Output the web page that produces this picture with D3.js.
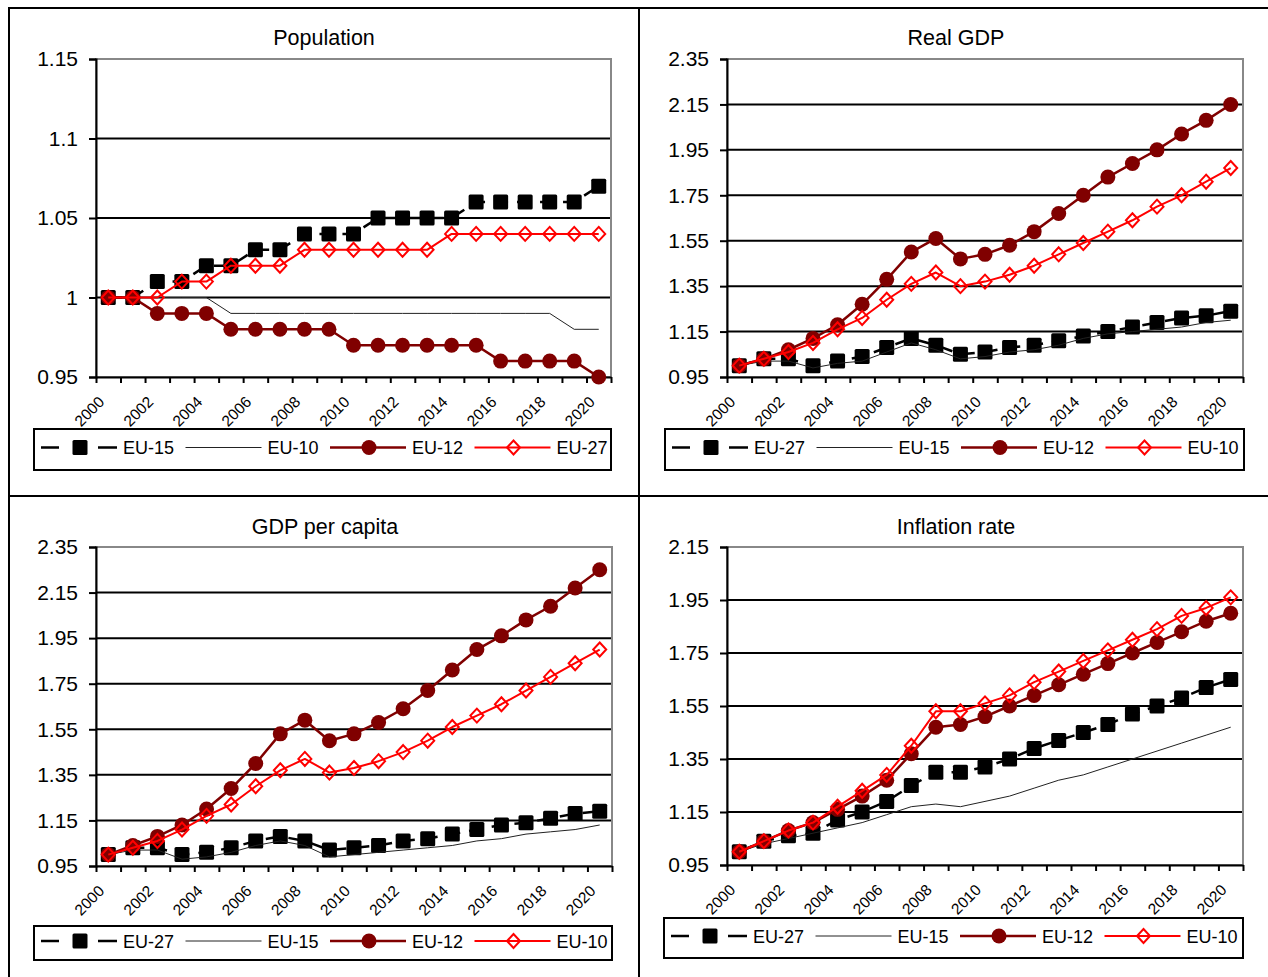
<!DOCTYPE html>
<html>
<head>
<meta charset="utf-8">
<script src="https://cdn.jsdelivr.net/npm/d3@7"></script>
<style>
body { margin: 0; background: #fff; }
svg { display: block; font-family: Arial, "Liberation Sans", sans-serif; }
</style>
</head>
<body>
<div id="chart"></div>
<script>
// categories
var years = [2000, 2001, 2002, 2003, 2004, 2005, 2006, 2007, 2008, 2009, 2010,
             2011, 2012, 2013, 2014, 2015, 2016, 2017, 2018, 2019, 2020];
var yearLabels = ["2000", "2002", "2004", "2006", "2008", "2010", "2012", "2014", "2016", "2018", "2020"];

// Population
var popTitle = "Population";
var popLegend = ["EU-15", "EU-10", "EU-12", "EU-27"];
var popTicks = [0.95, 1, 1.05, 1.1, 1.15];
var popTickLabels = ["0.95", "1", "1.05", "1.1", "1.15"];
var popSquare = [1.00, 1.00, 1.01, 1.01, 1.02, 1.02, 1.03, 1.03, 1.04, 1.04, 1.04, 1.05, 1.05, 1.05, 1.05, 1.06, 1.06, 1.06, 1.06, 1.06, 1.07];
var popThin = [1.00, 1.00, 1.00, 1.00, 1.00, 0.99, 0.99, 0.99, 0.99, 0.99, 0.99, 0.99, 0.99, 0.99, 0.99, 0.99, 0.99, 0.99, 0.99, 0.98, 0.98];
var popCircle = [1.00, 1.00, 0.99, 0.99, 0.99, 0.98, 0.98, 0.98, 0.98, 0.98, 0.97, 0.97, 0.97, 0.97, 0.97, 0.97, 0.96, 0.96, 0.96, 0.96, 0.95];
var popDiamond = [1.00, 1.00, 1.00, 1.01, 1.01, 1.02, 1.02, 1.02, 1.03, 1.03, 1.03, 1.03, 1.03, 1.03, 1.04, 1.04, 1.04, 1.04, 1.04, 1.04, 1.04];

// Real GDP
var gdpTitle = "Real GDP";
var gdpLegend = ["EU-27", "EU-15", "EU-12", "EU-10"];
var gdpTicks = [0.95, 1.15, 1.35, 1.55, 1.75, 1.95, 2.15, 2.35];
var gdpTickLabels = ["0.95", "1.15", "1.35", "1.55", "1.75", "1.95", "2.15", "2.35"];
var gdpSquare = [1.00, 1.03, 1.03, 1.00, 1.02, 1.04, 1.08, 1.12, 1.09, 1.05, 1.06, 1.08, 1.09, 1.11, 1.13, 1.15, 1.17, 1.19, 1.21, 1.22, 1.24];
var gdpThin = [1.00, 1.02, 1.02, 0.99, 1.01, 1.02, 1.06, 1.10, 1.07, 1.03, 1.04, 1.06, 1.07, 1.09, 1.12, 1.14, 1.15, 1.16, 1.17, 1.19, 1.20];
var gdpCircle = [1.00, 1.03, 1.07, 1.12, 1.18, 1.27, 1.38, 1.50, 1.56, 1.47, 1.49, 1.53, 1.59, 1.67, 1.75, 1.83, 1.89, 1.95, 2.02, 2.08, 2.15];
var gdpDiamond = [1.00, 1.03, 1.06, 1.10, 1.16, 1.21, 1.29, 1.36, 1.41, 1.35, 1.37, 1.40, 1.44, 1.49, 1.54, 1.59, 1.64, 1.70, 1.75, 1.81, 1.87];

// GDP per capita
var pcTitle = "GDP per capita";
var pcLegend = ["EU-27", "EU-15", "EU-12", "EU-10"];
var pcTicks = [0.95, 1.15, 1.35, 1.55, 1.75, 1.95, 2.15, 2.35];
var pcTickLabels = ["0.95", "1.15", "1.35", "1.55", "1.75", "1.95", "2.15", "2.35"];
var pcSquare = [1.00, 1.03, 1.03, 1.00, 1.01, 1.03, 1.06, 1.08, 1.06, 1.02, 1.03, 1.04, 1.06, 1.07, 1.09, 1.11, 1.13, 1.14, 1.16, 1.18, 1.19];
var pcThin = [1.00, 1.02, 1.02, 0.98, 0.99, 1.01, 1.04, 1.06, 1.04, 0.99, 1.00, 1.01, 1.02, 1.03, 1.04, 1.06, 1.07, 1.09, 1.10, 1.11, 1.13];
var pcCircle = [1.00, 1.04, 1.08, 1.13, 1.20, 1.29, 1.40, 1.53, 1.59, 1.50, 1.53, 1.58, 1.64, 1.72, 1.81, 1.90, 1.96, 2.03, 2.09, 2.17, 2.25];
var pcDiamond = [1.00, 1.03, 1.06, 1.11, 1.17, 1.22, 1.30, 1.37, 1.42, 1.36, 1.38, 1.41, 1.45, 1.50, 1.56, 1.61, 1.66, 1.72, 1.78, 1.84, 1.90];

// Inflation rate
var infTitle = "Inflation rate";
var infLegend = ["EU-27", "EU-15", "EU-12", "EU-10"];
var infTicks = [0.95, 1.15, 1.35, 1.55, 1.75, 1.95, 2.15];
var infTickLabels = ["0.95", "1.15", "1.35", "1.55", "1.75", "1.95", "2.15"];
var infSquare = [1.00, 1.04, 1.06, 1.07, 1.12, 1.15, 1.19, 1.25, 1.30, 1.30, 1.32, 1.35, 1.39, 1.42, 1.45, 1.48, 1.52, 1.55, 1.58, 1.62, 1.65];
var infThin = [1.00, 1.03, 1.05, 1.07, 1.09, 1.11, 1.14, 1.17, 1.18, 1.17, 1.19, 1.21, 1.24, 1.27, 1.29, 1.32, 1.35, 1.38, 1.41, 1.44, 1.47];
var infCircle = [1.00, 1.04, 1.08, 1.11, 1.16, 1.21, 1.27, 1.37, 1.47, 1.48, 1.51, 1.55, 1.59, 1.63, 1.67, 1.71, 1.75, 1.79, 1.83, 1.87, 1.90];
var infDiamond = [1.00, 1.04, 1.08, 1.11, 1.17, 1.23, 1.29, 1.40, 1.53, 1.53, 1.56, 1.59, 1.64, 1.68, 1.72, 1.76, 1.80, 1.84, 1.89, 1.92, 1.96];

var W = 1268, H = 977;

var svg = d3.select("#chart").append("svg")
    .attr("width", W)
    .attr("height", H);

//outer frame lines of the 2x2 table
var frame = svg.append("g").attr("stroke", "#000").attr("stroke-width", 2);
frame.append("line").attr("x1", 8).attr("x2", W).attr("y1", 8).attr("y2", 8);
frame.append("line").attr("x1", 9).attr("x2", 9).attr("y1", 7).attr("y2", H);
frame.append("line").attr("x1", 639).attr("x2", 639).attr("y1", 7).attr("y2", H);
frame.append("line").attr("x1", 8).attr("x2", W).attr("y1", 496).attr("y2", 496);

var panels = [
    {title: popTitle, legend: popLegend, ticks: popTicks, tickLabels: popTickLabels,
     series: [popSquare, popThin, popCircle, popDiamond],
     left: 96, right: 611, top: 59, bottom: 377, titleX: 324, titleY: 45,
     box: {x0: 34, x1: 611, y0: 429, y1: 470}},
    {title: gdpTitle, legend: gdpLegend, ticks: gdpTicks, tickLabels: gdpTickLabels,
     series: [gdpSquare, gdpThin, gdpCircle, gdpDiamond],
     left: 727, right: 1243, top: 59, bottom: 377, titleX: 956, titleY: 45,
     box: {x0: 665, x1: 1244, y0: 429, y1: 470}},
    {title: pcTitle, legend: pcLegend, ticks: pcTicks, tickLabels: pcTickLabels,
     series: [pcSquare, pcThin, pcCircle, pcDiamond],
     left: 96, right: 612, top: 547, bottom: 866, titleX: 325, titleY: 534,
     box: {x0: 34, x1: 612, y0: 926, y1: 960}},
    {title: infTitle, legend: infLegend, ticks: infTicks, tickLabels: infTickLabels,
     series: [infSquare, infThin, infCircle, infDiamond],
     left: 727, right: 1243, top: 547, bottom: 865, titleX: 956, titleY: 534,
     box: {x0: 664, x1: 1243, y0: 918, y1: 958}}
];

//line + marker style of each of the four series, in legend order
var styles = [
    {stroke: "#000", width: 2.5, dash: "14,9", legendDash: "18,15,12,12,19", marker: "square"},
    {stroke: "#222", width: 1, dash: null, legendDash: null, marker: null},
    {stroke: "#800000", width: 2.5, dash: null, legendDash: null, marker: "circle"},
    {stroke: "#ff0000", width: 2, dash: null, legendDash: null, marker: "diamond"}
];

function drawMarker(sel, type, x, y) {
    if (type == "square") {
        sel.append("rect")
            .attr("x", x - 7.5).attr("y", y - 7.5)
            .attr("width", 15).attr("height", 15)
            .attr("rx", 1.5)
            .attr("fill", "#000");
    }
    else if (type == "circle") {
        sel.append("circle")
            .attr("cx", x).attr("cy", y).attr("r", 7.5)
            .attr("fill", "#800000");
    }
    else if (type == "diamond") {
        sel.append("path")
            .attr("d", "M" + x + "," + (y - 7) + "L" + (x + 6.5) + "," + y +
                       "L" + x + "," + (y + 7) + "L" + (x - 6.5) + "," + y + "Z")
            .attr("fill", "none")
            .attr("stroke", "#ff0000")
            .attr("stroke-width", 2);
    }
}

function drawPanel(p) {
    var g = svg.append("g");

    var x = d3.scaleBand().domain(years).range([p.left, p.right]).padding(0);
    var xEdge = d3.scaleLinear().domain([0, years.length]).range([p.left, p.right]);
    var y = d3.scaleLinear()
        .domain([p.ticks[0], p.ticks[p.ticks.length - 1]])
        .range([p.bottom, p.top]);

    //title
    g.append("text")
        .attr("x", p.titleX).attr("y", p.titleY)
        .attr("text-anchor", "middle")
        .style("font-size", "21.5px")
        .text(p.title);

    //major gridlines
    g.append("g").selectAll("line")
        .data(p.ticks.slice(1))
        .enter().append("line")
        .attr("x1", p.left).attr("x2", p.right)
        .attr("y1", function(d) { return y(d); })
        .attr("y2", function(d) { return y(d); })
        .attr("stroke", "#000")
        .attr("stroke-width", 2);

    //gray plot area border
    g.append("rect")
        .attr("x", p.left).attr("y", p.top)
        .attr("width", p.right - p.left).attr("height", p.bottom - p.top)
        .attr("fill", "none")
        .attr("stroke", "#888")
        .attr("stroke-width", 2);

    //y axis
    var yAxis = d3.axisLeft(y)
        .tickValues(p.ticks)
        .tickFormat(function(d, i) { return p.tickLabels[i]; })
        .tickSize(7)
        .tickPadding(11);
    var ya = g.append("g")
        .attr("transform", "translate(" + p.left + ",0)")
        .call(yAxis);
    ya.selectAll("path, line").attr("stroke", "#000").attr("stroke-width", 2);
    ya.selectAll("text")
        .style("font-size", "21px")
        .style("font-family", "Arial, 'Liberation Sans', sans-serif")
        .attr("fill", "#000");

    //x axis: tick marks between the categories
    var xAxis = d3.axisBottom(xEdge)
        .tickValues(d3.range(years.length + 1))
        .tickFormat("")
        .tickSize(6)
        .tickSizeOuter(0);
    var xa = g.append("g")
        .attr("transform", "translate(0," + p.bottom + ")")
        .call(xAxis);
    xa.selectAll("path, line").attr("stroke", "#000").attr("stroke-width", 2);

    //rotated year labels on every second category
    g.append("g").selectAll("text")
        .data(yearLabels)
        .enter().append("text")
        .attr("transform", function(d) {
            var cx = x(+d) + x.bandwidth() / 2;
            return "translate(" + (cx - 3) + "," + (p.bottom + 26) + ") rotate(-45)";
        })
        .attr("text-anchor", "end")
        .style("font-size", "15.5px")
        .text(function(d) { return d; });

    //series lines and markers
    p.series.forEach(function(values, si) {
        var st = styles[si];
        var line = d3.line()
            .x(function(d, i) { return x(years[i]) + x.bandwidth() / 2; })
            .y(function(d) { return y(d); });
        var sg = g.append("g");
        sg.append("path")
            .datum(values)
            .attr("d", line)
            .attr("fill", "none")
            .attr("stroke", st.stroke)
            .attr("stroke-width", st.width)
            .attr("stroke-dasharray", st.dash)
            .attr("stroke-linejoin", "round");
        if (st.marker) {
            values.forEach(function(v, i) {
                drawMarker(sg, st.marker, x(years[i]) + x.bandwidth() / 2, y(v));
            });
        }
    });

    //legend box
    var b = p.box;
    var lg = g.append("g");
    lg.append("rect")
        .attr("x", b.x0).attr("y", b.y0)
        .attr("width", b.x1 - b.x0).attr("height", b.y1 - b.y0)
        .attr("fill", "#fff")
        .attr("stroke", "#000")
        .attr("stroke-width", 2);
    var ly = (b.y0 + b.y1) / 2 - 2;
    p.legend.forEach(function(name, i) {
        var st = styles[i];
        var sx = b.x0 + 7 + i * 144.5;
        lg.append("line")
            .attr("x1", sx).attr("x2", sx + 76)
            .attr("y1", ly).attr("y2", ly)
            .attr("stroke", st.stroke)
            .attr("stroke-width", st.width)
            .attr("stroke-dasharray", st.legendDash);
        if (st.marker) drawMarker(lg, st.marker, sx + 39, ly);
        lg.append("text")
            .attr("x", sx + 82).attr("y", ly + 6.5)
            .style("font-size", "18px")
            .text(name);
    });
}

panels.forEach(drawPanel);
</script>
</body>
</html>
